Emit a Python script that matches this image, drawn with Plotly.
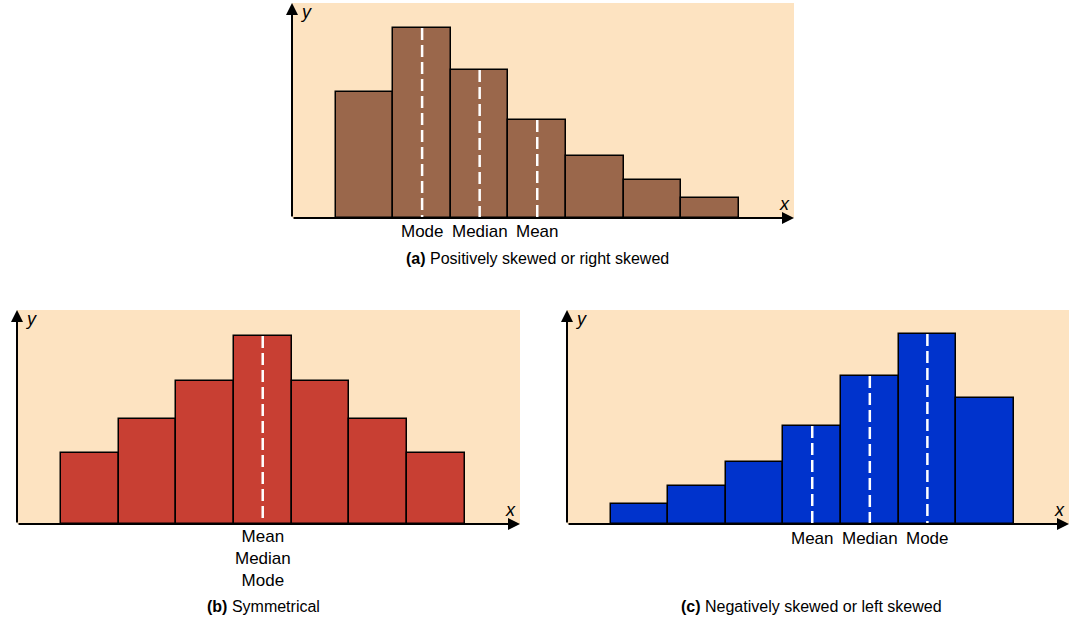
import plotly.graph_objects as go

# ---------------- data ----------------
bin_positions = [0, 1, 2, 3, 4, 5, 6]
heights_pos_skew = [126, 190, 148, 98, 62, 38, 20]
heights_symmetric = [71, 105, 143, 188, 143, 105, 71]
heights_neg_skew = [20, 38, 62, 98, 148, 190, 126]

marks_pos_skew = ["Mode", "Median", "Mean"]
marks_pos_skew_bins = [1, 2, 3]
marks_symmetric = ["Mean<br>Median<br>Mode"]
marks_symmetric_bins = [3]
marks_neg_skew = ["Mean", "Median", "Mode"]
marks_neg_skew_bins = [3, 4, 5]

captions = ["<b>(a)</b> Positively skewed or right skewed",
            "<b>(b)</b> Symmetrical",
            "<b>(c)</b> Negatively skewed or left skewed"]

# ---------------- styles ----------------
W, H = 1080, 623
FONT = "Liberation Sans Narrow, Liberation Sans, Arial, sans-serif"
BG = "#FDE3C1"
colors = ["#9A674B", "#C83F33", "#0033CC"]

panels = [
    dict(ax="x", ay="y", xpx=(292, 794), ypx=(3, 218), h=heights_pos_skew,
         labels=marks_pos_skew, lbins=marks_pos_skew_bins, label_y=231,
         cap_x=537, cap_y=258),
    dict(ax="x2", ay="y2", xpx=(17, 520), ypx=(310, 524), h=heights_symmetric,
         labels=marks_symmetric, lbins=marks_symmetric_bins, label_y=558,
         cap_x=263, cap_y=606),
    dict(ax="x3", ay="y3", xpx=(567, 1069), ypx=(310, 524), h=heights_neg_skew,
         labels=marks_neg_skew, lbins=marks_neg_skew_bins, label_y=538,
         cap_x=811, cap_y=606),
]

fig = go.Figure()
annotations = []
shapes = []
layout_axes = {}

for i, p in enumerate(panels):
    xname = "xaxis" if i == 0 else f"xaxis{i+1}"
    yname = "yaxis" if i == 0 else f"yaxis{i+1}"
    x0, x1 = p["xpx"]
    y0, y1 = p["ypx"]
    yr = y1 - y0
    layout_axes[xname] = dict(domain=[x0 / W, x1 / W], range=[-1.26, 7.46],
                              anchor=p["ay"], showgrid=False, zeroline=False,
                              showticklabels=False, ticks="", showline=False,
                              fixedrange=True)
    layout_axes[yname] = dict(domain=[1 - y1 / H, 1 - y0 / H], range=[0, yr],
                              anchor=p["ax"], showgrid=False, zeroline=False,
                              showticklabels=False, ticks="", showline=False,
                              fixedrange=True)

    fig.add_trace(go.Bar(x=bin_positions, y=p["h"], width=1,
                         marker=dict(color=colors[i], line=dict(color="black", width=1.5)),
                         xaxis=p["ax"], yaxis=p["ay"], hoverinfo="skip",
                         showlegend=False))

    # dashed white lines at the measures
    for b in p["lbins"]:
        shapes.append(dict(type="line", xref=p["ax"], yref=p["ay"],
                           x0=bin_positions[b], x1=bin_positions[b],
                           y0=p["h"][b], y1=0, layer="above",
                           line=dict(color="white", width=2.5, dash="12px,5px")))

    # labels under the axis
    for lab, b in zip(p["labels"], p["lbins"]):
        annotations.append(dict(text=lab, xref=p["ax"], yref="paper",
                                x=bin_positions[b], y=1 - p["label_y"] / H,
                                xanchor="center", yanchor="middle", showarrow=False,
                                font=dict(family=FONT, size=17, color="black")))

    # caption
    annotations.append(dict(text=captions[i], xref="paper", yref="paper",
                            x=p["cap_x"] / W, y=1 - p["cap_y"] / H,
                            xanchor="center", yanchor="middle", showarrow=False,
                            font=dict(family=FONT, size=16, color="black")))

    dom_x = p["ax"] + " domain"
    dom_y = p["ay"] + " domain"
    # axis arrows
    annotations.append(dict(text="", xref=dom_x, yref=dom_y, x=0, y=1,
                            axref=dom_x, ayref=dom_y, ax=0, ay=0,
                            showarrow=True, arrowhead=2, arrowsize=1.2,
                            arrowwidth=2, arrowcolor="black", standoff=0))
    annotations.append(dict(text="", xref=dom_x, yref=dom_y, x=1, y=0,
                            axref=dom_x, ayref=dom_y, ax=0, ay=0,
                            showarrow=True, arrowhead=2, arrowsize=1.2,
                            arrowwidth=2, arrowcolor="black", standoff=0))
    # axis letters
    annotations.append(dict(text="<i>y</i>", xref=dom_x, yref=dom_y, x=0, y=1,
                            xanchor="center", yanchor="middle", xshift=14, yshift=-9,
                            showarrow=False,
                            font=dict(family=FONT, size=18, color="black")))
    annotations.append(dict(text="<i>x</i>", xref=dom_x, yref=dom_y, x=1, y=0,
                            xanchor="center", yanchor="middle", xshift=-10, yshift=14,
                            showarrow=False,
                            font=dict(family=FONT, size=18, color="black")))

fig.update_layout(width=W, height=H, margin=dict(l=0, r=0, t=0, b=0),
                  paper_bgcolor="white", plot_bgcolor=BG, bargap=0,
                  annotations=annotations, shapes=shapes, **layout_axes)

fig.write_html("out.html", config={"displayModeBar": False},
               post_script="document.body.style.margin='0';")
